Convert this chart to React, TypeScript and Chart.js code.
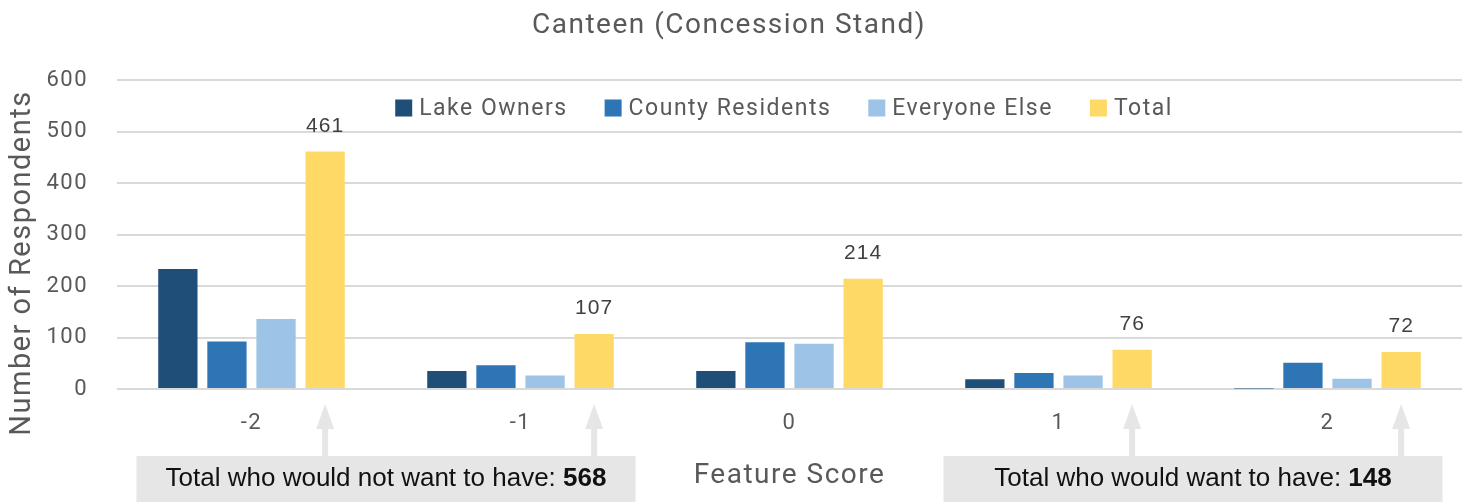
import React, { useEffect, useRef } from "react";
import { Chart, registerables } from "chart.js";

Chart.register(...registerables);

const chartTitle = "Canteen (Concession Stand)";
const categories = ["-2", "-1", "0", "1", "2"];
const seriesNames = ["Lake Owners", "County Residents", "Everyone Else", "Total"];
const seriesColors = ["#1F4E79", "#2E75B6", "#9DC3E6", "#FFD966"];
const lakeOwners = [233, 35, 35, 19, 1];
const countyResidents = [92, 46, 91, 31, 51];
const everyoneElse = [136, 26, 88, 26, 20];
const totals = [461, 107, 214, 76, 72];
const yAxisTitle = "Number of Respondents";
const xAxisTitle = "Feature Score";
const notWantText = "Total who would not want to have: ";
const wantText = "Total who would want to have: ";
const notWantIdx = [0, 1];
const wantIdx = [3, 4];

const FONT = "Roboto";
const GRAY = "#595959";
const SPACING = "1.5px";

const spacingPlugin = {
  id: "spacing",
  beforeLayout(chart: any) {
    chart.ctx.letterSpacing = SPACING;
  },
  beforeDraw(chart: any) {
    chart.ctx.letterSpacing = SPACING;
  },
};

const decorPlugin = {
  id: "decor",
  afterDraw(chart: any) {
    const ctx = chart.ctx as CanvasRenderingContext2D;
    const xs = chart.scales.x;

    // Title
    ctx.save();
    (ctx as any).letterSpacing = SPACING;
    ctx.font = `28px ${FONT}`;
    ctx.fillStyle = GRAY;
    ctx.textAlign = "center";
    ctx.textBaseline = "middle";
    ctx.fillText(chartTitle, 729, 26);
    ctx.restore();

    // Y axis title
    ctx.save();
    (ctx as any).letterSpacing = SPACING;
    ctx.font = `29px ${FONT}`;
    ctx.fillStyle = GRAY;
    ctx.textAlign = "center";
    ctx.textBaseline = "middle";
    ctx.translate(23, 263);
    ctx.rotate(-Math.PI / 2);
    ctx.fillText(yAxisTitle, 0, 0);
    ctx.restore();

    // Legend
    ctx.save();
    (ctx as any).letterSpacing = SPACING;
    ctx.font = `23px ${FONT}`;
    ctx.textBaseline = "middle";
    const box = 17;
    const gapBoxText = 7;
    const gapItems = 37;
    const widths = seriesNames.map((n) => ctx.measureText(n).width);
    const total =
      widths.reduce((a, b) => a + b, 0) + seriesNames.length * (box + gapBoxText) + gapItems * (seriesNames.length - 1);
    let x = 784 - total / 2;
    const ly = 108;
    seriesNames.forEach((n, i) => {
      ctx.fillStyle = seriesColors[i];
      ctx.fillRect(x, ly - box / 2, box, box);
      ctx.fillStyle = GRAY;
      ctx.textAlign = "left";
      ctx.fillText(n, x + box + gapBoxText, ly + 1);
      x += box + gapBoxText + widths[i] + gapItems;
    });
    ctx.restore();

    // Value labels above totals
    const meta = chart.getDatasetMeta(3);
    ctx.save();
    (ctx as any).letterSpacing = "1px";
    ctx.font = `21px "Liberation Sans", Arial`;
    ctx.fillStyle = "#404040";
    ctx.textAlign = "center";
    ctx.textBaseline = "bottom";
    meta.data.forEach((el: any, i: number) => {
      ctx.fillText(String(totals[i]), el.x, el.y - 15);
    });
    ctx.restore();

    // Arrows
    const arrowColor = "#E7E6E6";
    ctx.save();
    ctx.fillStyle = arrowColor;
    [...notWantIdx, ...wantIdx].forEach((i) => {
      const el = meta.data[i];
      const ax = el.x;
      const tip = 404;
      const base = 429;
      const boxTop = 456;
      ctx.beginPath();
      ctx.moveTo(ax, tip);
      ctx.lineTo(ax + 9, base);
      ctx.lineTo(ax - 9, base);
      ctx.closePath();
      ctx.fill();
      ctx.fillRect(ax - 3, base - 1, 6, boxTop - base + 1);
    });
    ctx.restore();

    // Boxes
    const drawBox = (idx: number[], label: string) => {
      const cx = (xs.getPixelForValue(idx[0]) + xs.getPixelForValue(idx[1])) / 2;
      const w = 499;
      const top = 456;
      ctx.save();
      ctx.fillStyle = arrowColor;
      ctx.fillRect(cx - w / 2, top, w, chart.height - top);
      const sum = idx.reduce((a, i) => a + totals[i], 0);
      (ctx as any).letterSpacing = "0px";
      ctx.font = `26px "Liberation Sans", Arial`;
      const w1 = ctx.measureText(label).width;
      ctx.font = `bold 26px "Liberation Sans", Arial`;
      const w2 = ctx.measureText(String(sum)).width;
      const sx = cx - (w1 + w2) / 2;
      ctx.fillStyle = "#111111";
      ctx.textBaseline = "middle";
      ctx.textAlign = "left";
      ctx.font = `26px "Liberation Sans", Arial`;
      ctx.fillText(label, sx, 479);
      ctx.font = `bold 26px "Liberation Sans", Arial`;
      ctx.fillText(String(sum), sx + w1, 479);
      ctx.restore();
    };
    drawBox(notWantIdx, notWantText);
    drawBox(wantIdx, wantText);
  },
};

export default function App() {
  const ref = useRef<HTMLCanvasElement>(null);
  useEffect(() => {
    document.body.style.margin = "0";
    const seriesData = [lakeOwners, countyResidents, everyoneElse, totals];
    const chart = new Chart(ref.current!, {
      type: "bar",
      data: {
        labels: categories,
        datasets: seriesNames.map((name, i) => ({
          label: name,
          data: seriesData[i],
          backgroundColor: seriesColors[i],
          borderWidth: 0,
          categoryPercentage: 0.73,
          barPercentage: 0.8,
        })),
      },
      options: {
        responsive: false,
        animation: false,
        layout: { padding: { top: 80, right: 7, left: 0, bottom: 0 } },
        plugins: {
          legend: { display: false },
          title: { display: false },
          tooltip: { enabled: false },
        },
        scales: {
          x: {
            grid: { display: false, drawTicks: false },
            border: { display: false },
            ticks: { font: { family: FONT, size: 22 }, color: GRAY, padding: 21 },
            title: {
              display: true,
              text: xAxisTitle,
              font: { family: FONT, size: 28 },
              color: GRAY,
              padding: { top: 0, bottom: 9 },
            },
            afterFit(s: any) {
              s.height = 113;
            },
          },
          y: {
            min: 0,
            max: 600,
            ticks: { stepSize: 100, font: { family: FONT, size: 22 }, color: GRAY, padding: 29 },
            grid: { color: "#D9D9D9", lineWidth: 2, drawTicks: false },
            border: { display: false },
            title: { display: false },
            afterFit(s: any) {
              s.width = 117;
            },
          },
        },
      },
      plugins: [spacingPlugin, decorPlugin],
    } as any);
    return () => chart.destroy();
  }, []);
  return (
    <div style={{ position: "absolute", left: 0, top: 0, width: 1469, height: 502 }}>
      <canvas ref={ref} width={1469} height={502} style={{ display: "block" }} />
    </div>
  );
}
